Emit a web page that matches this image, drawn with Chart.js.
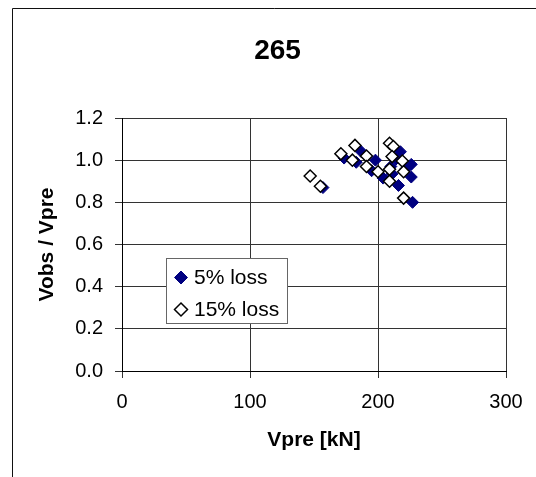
<!DOCTYPE html>
<html>
<head>
<meta charset="utf-8">
<script src="https://cdn.jsdelivr.net/npm/chart.js@4/dist/chart.umd.min.js"></script>
<style>
  body { margin: 0; background: #fff; }
  canvas { display: block; }
</style>
</head>
<body>
<canvas id="myChart" width="536" height="477"></canvas>
<script>
var chartTitle = "265";
var seriesNames = ["5% loss", "15% loss"];

// 5% loss
var loss5X = [157, 173.5, 183, 187, 198, 195, 204, 216, 217.5, 226, 226, 227, 211, 214, 210, 222];
var loss5Y = [0.87, 1.01, 0.99, 1.04, 1.00, 0.95, 0.915, 0.88, 1.04, 0.98, 0.92, 0.80, 0.935, 1.005, 0.97, 0.96];

// 15% loss
var loss15X = [147, 155, 171, 180, 182, 191, 191, 200, 209, 209, 209, 212, 211, 219, 220, 220];
var loss15Y = [0.925, 0.876, 1.03, 1.00, 1.07, 1.02, 0.97, 0.945, 0.957, 0.90, 1.08, 1.065, 1.017, 0.996, 0.945, 0.82];

var xTicks = [0, 100, 200, 300];
var yTicks = [0, 0.2, 0.4, 0.6, 0.8, 1.0, 1.2];

var fontFam = 'Arial, "Liberation Sans", sans-serif';

function toPoints(xs, ys) {
  return xs.map(function (x, i) { return { x: x, y: ys[i] }; });
}

// white sheet, outer frame line (top + left) and the title
var framePlugin = {
  id: 'frame',
  beforeDraw: function (chart) {
    var ctx = chart.ctx;
    ctx.save();
    ctx.fillStyle = '#fff';
    ctx.fillRect(0, 0, chart.width, chart.height);
    ctx.strokeStyle = '#111';
    ctx.lineWidth = 1;
    ctx.beginPath();
    ctx.moveTo(12.5, chart.height);
    ctx.lineTo(12.5, 8.5);
    ctx.lineTo(chart.width, 8.5);
    ctx.stroke();
    ctx.fillStyle = '#000';
    ctx.font = 'bold 28px ' + fontFam;
    ctx.textAlign = 'center';
    ctx.textBaseline = 'middle';
    ctx.fillText(chartTitle, 277.5, 51);
    ctx.restore();
  }
};

// boxed legend sitting inside the plot
var boxLegend = {
  id: 'boxLegend',
  afterDatasetsDraw: function (chart) {
    var ctx = chart.ctx;
    var bx = 166.5, by = 258.5, bw = 121, bh = 65;
    ctx.save();
    ctx.fillStyle = '#fff';
    ctx.strokeStyle = '#666';
    ctx.lineWidth = 1;
    ctx.fillRect(bx, by, bw, bh);
    ctx.strokeRect(bx, by, bw, bh);
    var rows = [277.5, 309.5];
    chart.data.datasets.forEach(function (ds, i) {
      ctx.fillStyle = ds.backgroundColor;
      ctx.strokeStyle = ds.borderColor;
      ctx.lineWidth = ds.borderWidth;
      Chart.helpers.drawPoint(ctx, { pointStyle: 'rectRot', radius: 6.5, borderWidth: ds.borderWidth, rotation: 0 }, 181, rows[i]);
      ctx.fillStyle = '#000';
      ctx.font = '21px ' + fontFam;
      ctx.textBaseline = 'middle';
      ctx.textAlign = 'left';
      ctx.fillText(ds.label, 194, rows[i] + 1);
    });
    ctx.restore();
  }
};

var ctx = document.getElementById('myChart').getContext('2d');
var myChart = new Chart(ctx, {
  type: 'scatter',
  data: {
    datasets: [{
      label: seriesNames[0],
      data: toPoints(loss5X, loss5Y),
      backgroundColor: '#000080',
      borderColor: '#000080',
      borderWidth: 1,
      pointStyle: 'rectRot',
      pointRadius: 6,
      order: 1
    }, {
      label: seriesNames[1],
      data: toPoints(loss15X, loss15Y),
      backgroundColor: '#ffffff',
      borderColor: '#000000',
      borderWidth: 1.5,
      pointStyle: 'rectRot',
      pointRadius: 6,
      order: 0
    }]
  },
  options: {
    responsive: false,
    animation: false,
    events: [],
    layout: { padding: { left: 0, right: 30, top: 118, bottom: 0 } },
    plugins: {
      legend: { display: false },
      tooltip: { enabled: false },
      title: { display: false }
    },
    scales: {
      x: {
        type: 'linear',
        min: xTicks[0],
        max: xTicks[xTicks.length - 1],
        afterBuildTicks: function (s) { s.ticks = xTicks.map(function (v) { return { value: v }; }); },
        afterFit: function (s) { s.height = 106; },
        ticks: { color: '#000', font: { family: fontFam, size: 20 }, padding: 12, maxRotation: 0 },
        grid: { color: '#333', lineWidth: 1, tickLength: 7 },
        border: { color: '#000', width: 1 },
        title: {
          display: true,
          text: 'Vpre [kN]',
          color: '#000',
          font: { family: fontFam, size: 21, weight: 'bold' },
          padding: { top: 0, bottom: 24 }
        }
      },
      y: {
        min: yTicks[0],
        max: yTicks[yTicks.length - 1],
        afterBuildTicks: function (s) { s.ticks = yTicks.map(function (v) { return { value: v }; }); },
        afterFit: function (s) { s.width = 122; },
        ticks: {
          color: '#000',
          font: { family: fontFam, size: 20 },
          padding: 12,
          callback: function (v) { return Number(v).toFixed(1); }
        },
        grid: { color: '#333', lineWidth: 1, tickLength: 7 },
        border: { color: '#000', width: 1 },
        title: {
          display: true,
          text: 'Vobs / Vpre',
          color: '#000',
          font: { family: fontFam, size: 21, weight: 'bold' },
          padding: { top: 35, bottom: 0 }
        }
      }
    }
  },
  plugins: [framePlugin, boxLegend]
});
</script>
</body>
</html>
